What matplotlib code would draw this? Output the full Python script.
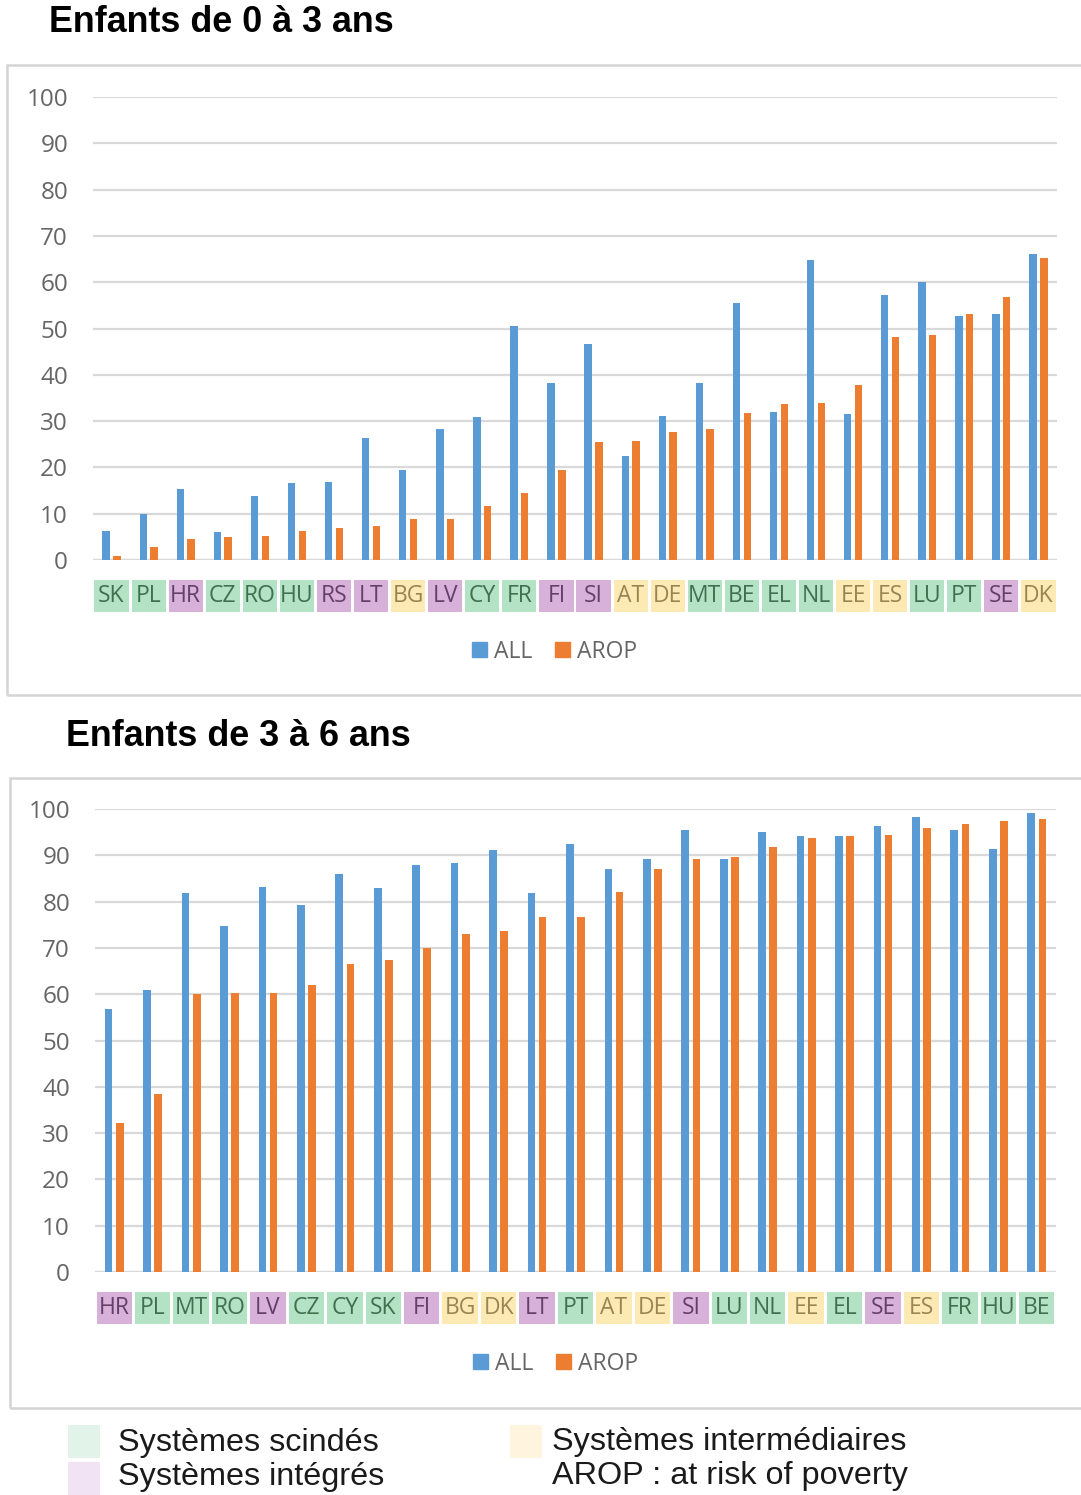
"""Enfants 0-3 / 3-6 ans : taux de participation, ALL vs AROP."""

import matplotlib
matplotlib.use("Agg")
import matplotlib.pyplot as plt
import matplotlib.transforms as mtransforms
from matplotlib.patches import Rectangle
import numpy as np

W, H = 1081, 1495

# --- data ---------------------------------------------------------------
top_countries = ["SK", "PL", "HR", "CZ", "RO", "HU", "RS", "LT", "BG", "LV", "CY", "FR", "FI",
                 "SI", "AT", "DE", "MT", "BE", "EL", "NL", "EE", "ES", "LU", "PT", "SE", "DK"]
top_all = [6.3, 10.0, 15.4, 6.0, 13.9, 16.6, 16.9, 26.4, 19.5, 28.2, 30.9, 50.6, 38.2,
           46.7, 22.4, 31.2, 38.2, 55.4, 32.0, 64.9, 31.5, 57.3, 60.0, 52.7, 53.1, 66.0]
top_arop = [0.9, 2.7, 4.6, 4.9, 5.2, 6.3, 6.9, 7.3, 8.9, 8.9, 11.6, 14.5, 19.5,
            25.5, 25.8, 27.6, 28.3, 31.8, 33.7, 34.0, 37.8, 48.2, 48.5, 53.1, 56.8, 65.2]
top_system = ["s", "s", "i", "s", "s", "s", "i", "i", "m", "i", "s", "s", "i",
              "i", "m", "m", "s", "s", "s", "s", "m", "m", "s", "s", "i", "m"]

bot_countries = ["HR", "PL", "MT", "RO", "LV", "CZ", "CY", "SK", "FI", "BG", "DK", "LT", "PT",
                 "AT", "DE", "SI", "LU", "NL", "EE", "EL", "SE", "ES", "FR", "HU", "BE"]
bot_all = [56.8, 61.0, 81.9, 74.7, 83.2, 79.2, 85.9, 82.9, 88.0, 88.3, 91.2, 81.9, 92.5,
           87.1, 89.2, 95.5, 89.2, 95.0, 94.1, 94.1, 96.4, 98.3, 95.5, 91.3, 99.2]
bot_arop = [32.2, 38.5, 60.0, 60.2, 60.2, 62.0, 66.6, 67.4, 70.0, 72.9, 73.7, 76.6, 76.6,
            82.0, 87.1, 89.2, 89.6, 91.7, 93.7, 94.1, 94.4, 95.8, 96.8, 97.4, 97.9]
bot_system = ["i", "s", "s", "s", "i", "s", "s", "s", "i", "m", "m", "i", "s",
              "m", "m", "i", "s", "s", "m", "s", "i", "m", "s", "s", "s"]

yticks = [0, 10, 20, 30, 40, 50, 60, 70, 80, 90, 100]

# --- style --------------------------------------------------------------
BLUE = "#5b9bd5"
ORANGE = "#ed7d31"
GRID = "#d9d9d9"
TICK = "#666666"
BOX = {"s": "#b3e2c4", "i": "#d8b1da", "m": "#fde9b3"}
BOX_TEXT = {"s": "#41704f", "i": "#62406a", "m": "#978653"}
PALE = {"s": "#e2f4e9", "i": "#f2e3f4", "m": "#fff5df"}
UI_FONT = "Open Sans"


def fig_rect(x0, y0, x1, y1):
    # pixel box (top-left origin) -> figure fraction [left, bottom, width, height]
    return [x0 / W, 1 - y1 / H, (x1 - x0) / W, (y1 - y0) / H]


def draw_panel(fig, rect_px, countries, all_vals, arop_vals, systems):
    ax = fig.add_axes(fig_rect(*rect_px))
    x = np.arange(len(countries))
    width = 0.2
    ax.bar(x - 0.145, all_vals, width, color=BLUE, zorder=3)
    ax.bar(x + 0.145, arop_vals, width, color=ORANGE, zorder=3)
    ax.set_xlim(-0.5, len(countries) - 0.5)
    ax.set_ylim(0, 100)
    ax.set_yticks(yticks)
    ax.set_yticklabels([str(t) for t in yticks], fontsize=17.5, color=TICK, family=UI_FONT)
    ax.tick_params(axis="y", length=0, pad=18)
    ax.set_xticks([])
    ax.grid(axis="y", color=GRID, lw=1.6, zorder=0)
    ax.set_axisbelow(True)
    for side in ax.spines.values():
        side.set_visible(False)
    ax.axhline(0, color=GRID, lw=1.6, zorder=2)

    # coloured country labels under the bars
    trans = mtransforms.blended_transform_factory(ax.transData, ax.transAxes)
    for i, (code, sys_) in enumerate(zip(countries, systems)):
        ax.add_patch(Rectangle((i - 0.46, -0.112), 0.92, 0.068, transform=trans,
                               facecolor=BOX[sys_], edgecolor="none", clip_on=False))
        ax.text(i, -0.078, code, transform=trans, ha="center", va="center",
                fontsize=16.5, color=BOX_TEXT[sys_], family=UI_FONT)

    # ALL / AROP legend
    handles = [Rectangle((0, 0), 1, 1, color=BLUE), Rectangle((0, 0), 1, 1, color=ORANGE)]
    ax.legend(handles, ["ALL", "AROP"], loc="center", bbox_to_anchor=(0.479, -0.198), ncol=2,
              frameon=False, handlelength=0.65, handleheight=0.65, handletextpad=0.3,
              columnspacing=1.0, prop={"family": UI_FONT, "size": 16.5}, labelcolor=TICK)
    return ax


fig = plt.figure(figsize=(W / 100, H / 100), dpi=100)

# panel frames
for x0, y0, y1 in [(7, 65, 695), (10, 778, 1408)]:
    fig.patches.append(Rectangle((x0 / W, 1 - y1 / H), (W + 20 - x0) / W, (y1 - y0) / H,
                                 transform=fig.transFigure, facecolor="none",
                                 edgecolor="#d4d4d4", lw=1.8))

fig.text(49 / W, 1 - 23 / H, "Enfants de 0 à 3 ans", fontsize=25.8, fontweight="bold",
         family="Liberation Sans", va="center", ha="left")
fig.text(66 / W, 1 - 737 / H, "Enfants de 3 à 6 ans", fontsize=25.8, fontweight="bold",
         family="Liberation Sans", va="center", ha="left")

draw_panel(fig, (93, 97, 1057, 560), top_countries, top_all, top_arop, top_system)
draw_panel(fig, (95, 809, 1056, 1272), bot_countries, bot_all, bot_arop, bot_system)

# bottom key
key = [
    (68, 1425, "s", 118, 1443, "Systèmes scindés"),
    (68, 1462, "i", 118, 1477, "Systèmes intégrés"),
    (510, 1425, "m", 552, 1442, "Systèmes intermédiaires"),
]
for sx, sy, sys_, tx, ty, label in key:
    fig.patches.append(Rectangle(((sx) / W, 1 - (sy + 33) / H), 32 / W, 33 / H,
                                 transform=fig.transFigure, facecolor=PALE[sys_], edgecolor="none"))
    fig.text(tx / W, 1 - ty / H, label, fontsize=23.3, family="Liberation Sans",
             va="center", ha="left", color="#1a1a1a")
fig.text(552 / W, 1 - 1476 / H, "AROP : at risk of poverty", fontsize=23.3,
         family="Liberation Sans", va="center", ha="left", color="#1a1a1a")

fig.savefig("out.png", dpi=100)
